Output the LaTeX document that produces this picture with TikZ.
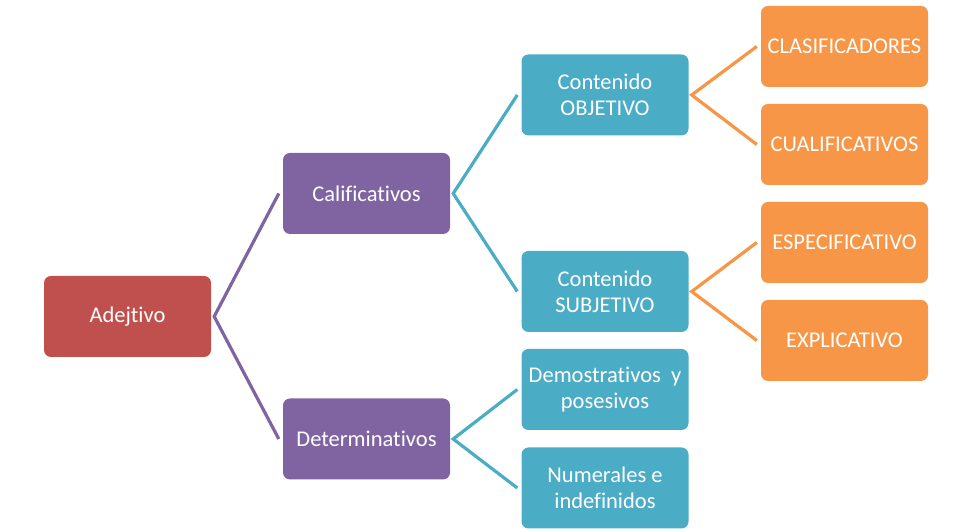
\documentclass[tikz,border=0pt]{standalone}
\usepackage{fontspec}
\setmainfont{Carlito}[Ligatures={NoCommon}]
\definecolor{cred}{HTML}{C0504D}
\definecolor{cpurple}{HTML}{8064A2}
\definecolor{cteal}{HTML}{4BACC6}
\definecolor{corange}{HTML}{F79646}
\tikzset{
  box/.style={rounded corners=7pt, minimum width=167pt, minimum height=81pt, inner sep=2pt,
    text=white, align=center, font=\fontsize{22.5}{26}\selectfont},
  redbox/.style={box, fill=cred},
  purplebox/.style={box, fill=cpurple},
  tealbox/.style={box, fill=cteal},
  orangebox/.style={box, fill=corange},
  conn/.style={line width=3.2pt, line join=miter},
}
\begin{document}
\begin{tikzpicture}[x=1pt,y=1pt]
\useasboundingbox (0,0) rectangle (969,532);
\node[redbox] (adj) at (127.5,215.5) {Adejtivo};
\node[purplebox] (cal) at (366.5,338.5) {Calificativos};
\node[purplebox] (det) at (366.5,93) {Determinativos};
\node[tealbox] (obj) at (605,437) {Contenido\\OBJETIVO};
\node[tealbox] (sub) at (605,240.5) {Contenido\\SUBJETIVO};
\node[tealbox] (dem) at (605,142.5) {Demostrativos\ \ y\\posesivos};
\node[tealbox] (num) at (605,44) {Numerales e\\indefinidos};
\node[orangebox] (cla) at (844.5,485.5) {CLASIFICADORES};
\node[orangebox] (cua) at (844.5,387.5) {CUALIFICATIVOS};
\node[orangebox] (esp) at (844.5,289.5) {ESPECIFICATIVO};
\node[orangebox] (exp) at (844.5,191.5) {EXPLICATIVO};
\draw[conn, cpurple] ([xshift=-4pt]cal.west) -- ([xshift=3pt]adj.east) -- ([xshift=-4pt]det.west);
\draw[conn, cteal] ([xshift=-4pt]obj.west) -- ([xshift=3pt]cal.east) -- ([xshift=-4pt]sub.west);
\draw[conn, cteal] ([xshift=-4pt]dem.west) -- ([xshift=3pt]det.east) -- ([xshift=-4pt]num.west);
\draw[conn, corange] ([xshift=-4pt]cla.west) -- ([xshift=3pt]obj.east) -- ([xshift=-4pt]cua.west);
\draw[conn, corange] ([xshift=-4pt]esp.west) -- ([xshift=3pt]sub.east) -- ([xshift=-4pt]exp.west);
\end{tikzpicture}
\end{document}
